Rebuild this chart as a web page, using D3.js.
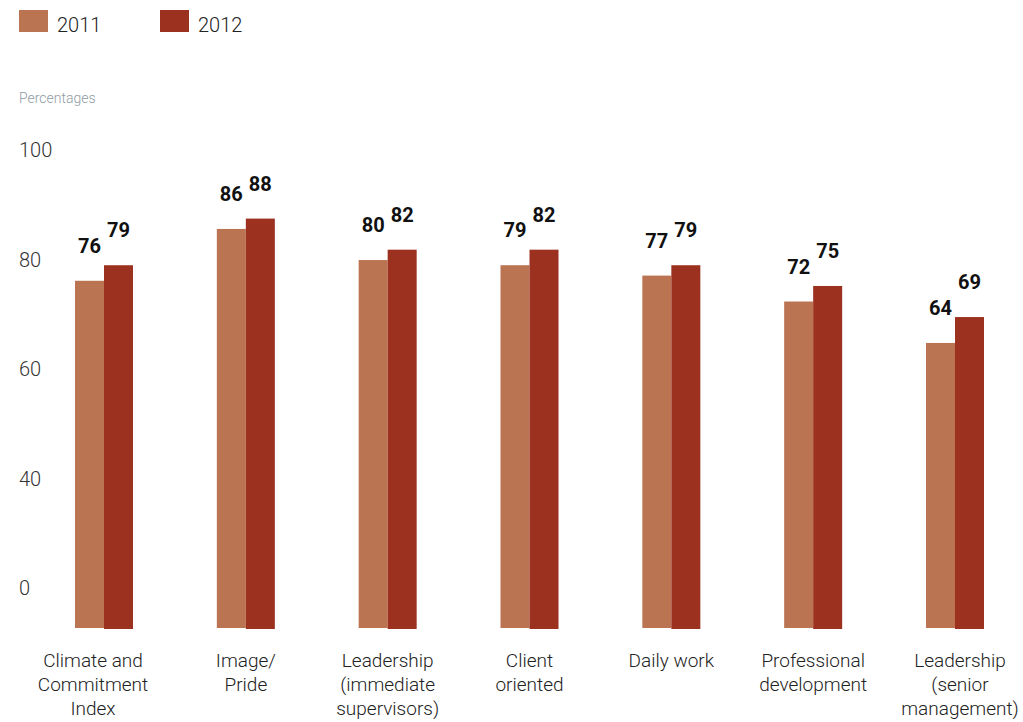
<!DOCTYPE html>
<html>
<head>
<meta charset="utf-8">
<script src="https://cdn.jsdelivr.net/npm/d3@7/dist/d3.min.js"></script>
<style>
  html, body { margin: 0; padding: 0; background: #fff; }
  svg { display: block; font-family: Roboto, "Open Sans", "DejaVu Sans", sans-serif; }
</style>
</head>
<body>
<svg id="chart" width="1023" height="722"></svg>
<script>
// ---- data ----
const categories = [
  ["Climate and", "Commitment", "Index"],
  ["Image/", "Pride"],
  ["Leadership", "(immediate", "supervisors)"],
  ["Client", "oriented"],
  ["Daily work"],
  ["Professional", "development"],
  ["Leadership", "(senior", "management)"]
];
const seriesNames = ["2011", "2012"];
const values2011 = [76, 86, 80, 79, 77, 72, 64];
const values2012 = [79, 88, 82, 82, 79, 75, 69];
const tickLabels = ["100", "80", "60", "40", "0"];

// ---- styles ----
const colors = ["#bb7452", "#9b311e"];
const svg = d3.select("#chart");
const catKeys = categories.map(c => c.join(" "));
const seriesValues = [values2011, values2012];

const x = d3.scaleBand().domain(catKeys).range([75, 984]).paddingInner(0.591).paddingOuter(0);
const xs = d3.scaleBand().domain(seriesNames).range([0, x.bandwidth()]);
const y = d3.scaleLinear().domain([9, 100]).range([628, 156.4]);
const tickPos = d3.scalePoint().domain(tickLabels).range([150, 588]);

// legend
const legend = svg.append("g");
seriesNames.forEach((s, i) => {
  const lx = 19 + i * 141;
  legend.append("rect").attr("x", lx).attr("y", 10).attr("width", 29).attr("height", 22).attr("fill", colors[i]);
  legend.append("text").attr("x", lx + 38).attr("y", 32).attr("font-size", 20).attr("font-weight", 300)
    .attr("fill", "#222").text(s);
});

// axis title
svg.append("text").attr("x", 19).attr("y", 103).attr("font-size", 14).attr("font-weight", 300)
  .attr("fill", "#8f9ca3").text("Percentages");

// y tick labels
svg.append("g").selectAll("text").data(tickLabels).join("text")
  .attr("x", 19).attr("y", d => tickPos(d)).attr("dy", "0.35em")
  .attr("font-size", 20).attr("font-weight", 300).attr("fill", "#333").text(d => d);

// bars
seriesNames.forEach((s, si) => {
  const g = svg.append("g");
  g.selectAll("rect").data(seriesValues[si]).join("rect")
    .attr("x", (d, i) => x(catKeys[i]) + xs(s))
    .attr("width", xs.bandwidth())
    .attr("y", d => y(d))
    .attr("height", d => y.range()[0] + si - y(d))
    .attr("fill", colors[si]);
  g.selectAll("text").data(seriesValues[si]).join("text")
    .attr("x", (d, i) => x(catKeys[i]) + xs(s) + xs.bandwidth() / 2)
    .attr("y", d => y(d) - 28)
    .attr("text-anchor", "middle")
    .attr("font-size", 20).attr("font-weight", 700).attr("fill", "#111")
    .text(d => d);
});

// category labels
const labelShift = [-11, 0, 0, 0, 0, 0, 5];
const cl = svg.append("g");
categories.forEach((lines, i) => {
  const t = cl.append("text")
    .attr("x", x(catKeys[i]) + x.bandwidth() / 2 + labelShift[i])
    .attr("y", 667)
    .attr("text-anchor", "middle")
    .attr("font-size", 19).attr("font-weight", 300).attr("fill", "#222");
  lines.forEach((ln, j) => {
    t.append("tspan").attr("x", x(catKeys[i]) + x.bandwidth() / 2 + labelShift[i])
      .attr("dy", j === 0 ? 0 : 24).text(ln);
  });
});
</script>
</body>
</html>
